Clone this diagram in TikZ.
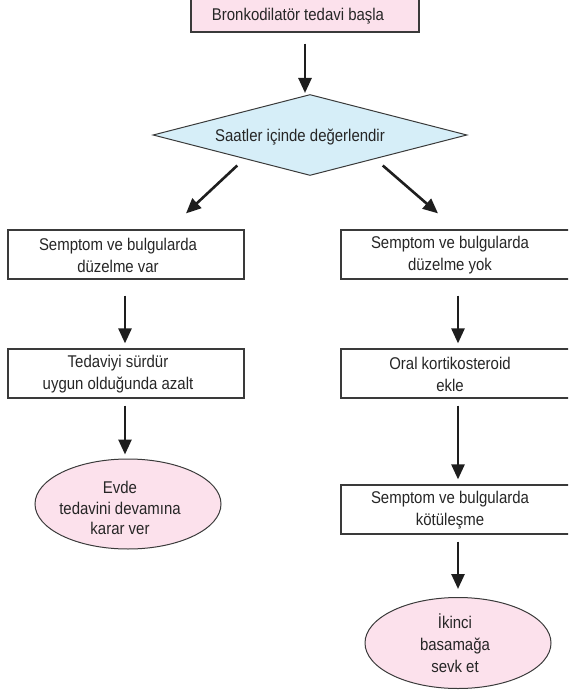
\documentclass[tikz,border=0pt]{standalone}
\usepackage{fontspec}
\setmainfont{Liberation Sans}[FakeStretch=0.88]
\usetikzlibrary{shapes.geometric,arrows.meta,calc}
\definecolor{pinkfill}{HTML}{FCE1EC}
\definecolor{bluefill}{HTML}{D6EEF8}
\definecolor{edgec}{HTML}{3A3A3A}
\definecolor{arrc}{HTML}{1E1E1E}
\definecolor{txtc}{HTML}{262626}
\begin{document}
\begin{tikzpicture}[x=1pt,y=-1pt,
  box/.style={draw=edgec,line width=1.2pt,rectangle,minimum width=236pt,minimum height=49pt,inner sep=0pt},
  lbl/.style={font=\fontsize{17}{22}\selectfont,align=center,text=txtc,inner sep=0pt},
  oval/.style={draw=edgec,line width=1pt,ellipse,fill=pinkfill,minimum width=186pt,inner sep=0pt},
  arrow/.style={draw=arrc,line width=2.6pt,-{Triangle[length=15pt,width=13pt]}}]
\clip (0,0) rectangle (568,692);
% top box
\node[box,fill=pinkfill,minimum width=228pt,minimum height=33pt] (top) at (305,15.5) {};
\node[lbl] (ttop) at (298,16) {Bronkodilatör tedavi başla};
% diamond
\node[draw=edgec,line width=1pt,diamond,fill=bluefill,minimum width=314pt,minimum height=81pt,inner sep=0pt] (d) at (310,135) {};
\node[lbl] (td) at (300,137) {Saatler içinde değerlendir};
% left column
\node[box] (l1) at (126,254.5) {};
\node[lbl] (tl1) at (118,255.5) {Semptom ve bulgularda\\düzelme var};
\node[box] (l2) at (126,373.5) {};
\node[lbl] (tl2) at (118,374.5) {Tedaviyi sürdür\\uygun olduğunda azalt};
\node[oval,minimum height=90pt] (le) at (128,504) {};
\node[lbl,font=\fontsize{17}{20.5}\selectfont] (tle) at (120,508) {Evde\\tedavini devamına\\karar ver};
% right column
\node[box] (r1) at (459,254.5) {};
\node[lbl] (tr1) at (450,255.5) {Semptom ve bulgularda\\düzelme yok};
\node[box] (r2) at (459,373.5) {};
\node[lbl] (tr2) at (450,374.5) {Oral kortikosteroid\\ekle};
\node[box] (r3) at (459,509.5) {};
\node[lbl] (tr3) at (450,510.5) {Semptom ve bulgularda\\kötüleşme};
\node[oval,minimum height=91pt] (re) at (458,643) {};
\node[lbl] (tre) at (455,643) {İkinci\\basamağa\\sevk et};
% connectors
\draw[arrow,shorten <=11pt,shorten >=1pt] (top.south) -- (top.south |- d.north);
\draw[arrow] ($(d.south west)+(6,10)$) -- ($(l1.north)+(60,-16)$);
\draw[arrow] ($(d.south east)+(-6,10)$) -- ($(r1.north)+(-21,-16)$);
\draw[arrow,shorten <=16pt,shorten >=5pt] ([xshift=-1pt]l1.south) -- ([xshift=-1pt]l2.north);
\draw[arrow,shorten <=16pt,shorten >=5pt] ([xshift=-1pt]r1.south) -- ([xshift=-1pt]r2.north);
\draw[arrow,shorten <=7pt,shorten >=4pt] ([xshift=-1pt]l2.south) -- ([xshift=-1pt]l2.south |- le.north);
\draw[arrow,shorten <=7pt,shorten >=5pt] ([xshift=-1pt]r2.south) -- ([xshift=-1pt]r3.north);
\draw[arrow,shorten <=7pt,shorten >=8pt] ([xshift=-1pt]r3.south) -- ([xshift=-1pt]r3.south |- re.north);
\end{tikzpicture}
\end{document}
